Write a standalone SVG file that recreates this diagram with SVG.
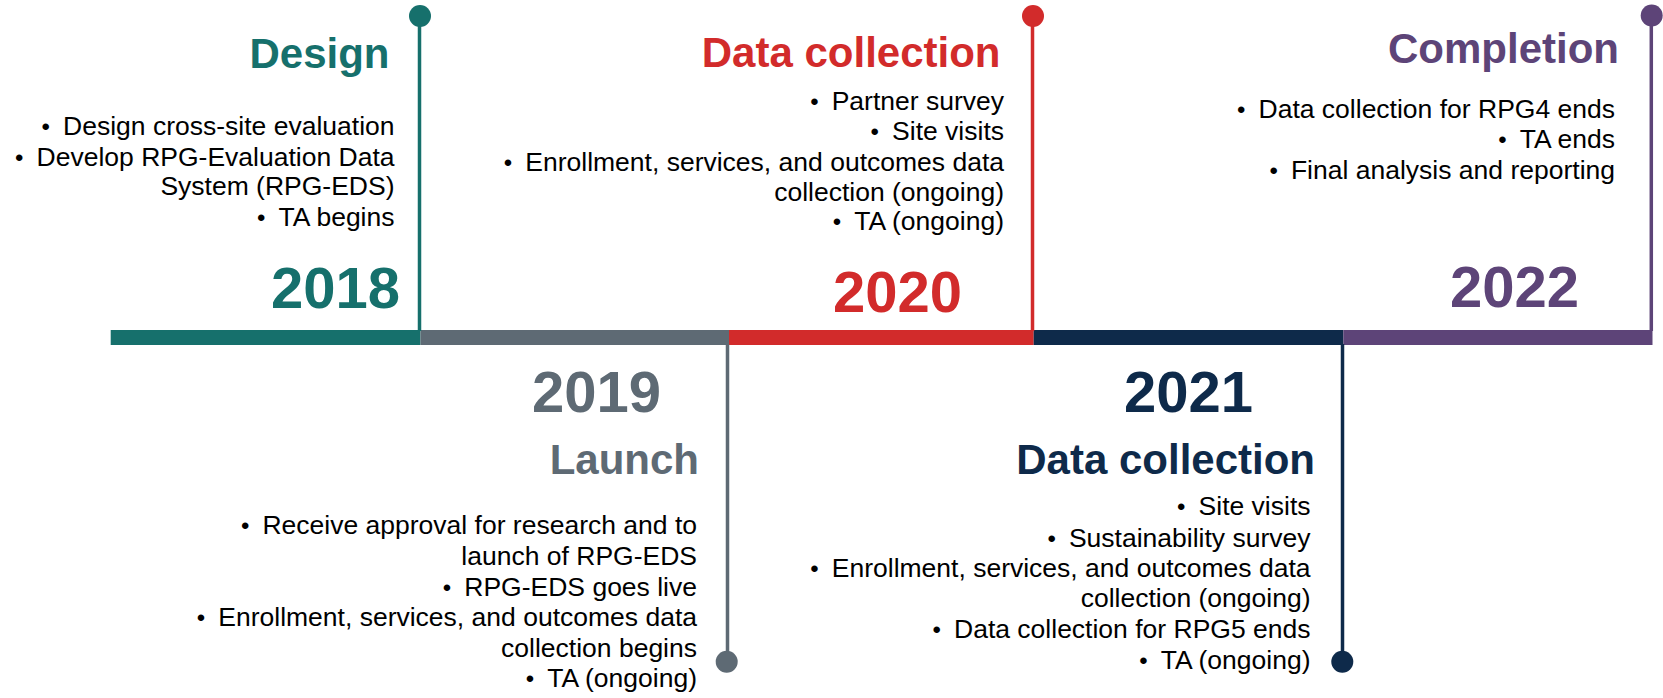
<svg xmlns="http://www.w3.org/2000/svg" width="1663" height="698" viewBox="0 0 1663 698">
  <style>
    text { font-family: "Liberation Sans", Arial, "Helvetica Neue", sans-serif; text-anchor: end; }
    .title { font-size: 42px; font-weight: bold; }
    .year { font-size: 58px; font-weight: bold; }
    .body { font-size: 26.5px; fill: #000; }
    .b { font-size: 24px; }
    .stem { stroke-width: 3.5; fill: none; }
    .teal { fill: #16706C; } .teal-s { stroke: #16706C; }
    .slate { fill: #5E6A74; } .slate-s { stroke: #5E6A74; }
    .red { fill: #D22B2B; } .red-s { stroke: #D22B2B; }
    .navy { fill: #0E2A4A; } .navy-s { stroke: #0E2A4A; }
    .plum { fill: #5D4478; } .plum-s { stroke: #5D4478; }
  </style>
  <rect width="1663" height="698" fill="#fff"/>

  <!-- timeline bar and stems -->
  <g id="connectors">
    <rect class="teal" x="110.7" y="330" width="309.8" height="15"/>
    <rect class="slate" x="420.5" y="330" width="308.5" height="15"/>
    <rect class="red" x="729" y="330" width="304.7" height="15"/>
    <rect class="navy" x="1033.7" y="330" width="309.6" height="15"/>
    <rect class="plum" x="1343.3" y="330" width="309.2" height="15"/>
    <line class="stem teal-s" x1="419.5" y1="16" x2="419.5" y2="331"/>
    <line class="stem slate-s" x1="727.5" y1="344" x2="727.5" y2="662"/>
    <line class="stem red-s" x1="1032.5" y1="16" x2="1032.5" y2="331"/>
    <line class="stem navy-s" x1="1342.5" y1="344" x2="1342.5" y2="662"/>
    <line class="stem plum-s" x1="1651.3" y1="16" x2="1651.3" y2="331"/>
  </g>

  <g id="y2018">
    <circle class="teal" cx="420" cy="16" r="11"/>
    <text class="title teal" x="389.5" y="68.3">Design</text>
    <text class="body" x="394.5" y="135"><tspan class="b">•</tspan><tspan dx="13.1">Design cross-site evaluation</tspan></text>
    <text class="body" x="394.5" y="165.7"><tspan class="b">•</tspan><tspan dx="13.1">Develop RPG-Evaluation Data</tspan></text>
    <text class="body" x="394.5" y="195.3">System (RPG-EDS)</text>
    <text class="body" x="394.5" y="226.3"><tspan class="b">•</tspan><tspan dx="13.1">TA begins</tspan></text>
    <text class="year teal" x="400" y="308.3">2018</text>
  </g>

  <g id="y2019">
    <circle class="slate" cx="726.7" cy="661.7" r="11"/>
    <text class="year slate" x="661" y="411.7">2019</text>
    <text class="title slate" x="699" y="474">Launch</text>
    <text class="body" x="697" y="534"><tspan class="b">•</tspan><tspan dx="13.1">Receive approval for research and to</tspan></text>
    <text class="body" x="697" y="565">launch of RPG-EDS</text>
    <text class="body" x="697" y="595.5"><tspan class="b">•</tspan><tspan dx="13.1">RPG-EDS goes live</tspan></text>
    <text class="body" x="697" y="626"><tspan class="b">•</tspan><tspan dx="13.1">Enrollment, services, and outcomes data</tspan></text>
    <text class="body" x="697" y="656.7">collection begins</text>
    <text class="body" x="697" y="686.7"><tspan class="b">•</tspan><tspan dx="13.1">TA (ongoing)</tspan></text>
  </g>

  <g id="y2020">
    <circle class="red" cx="1033" cy="16" r="11"/>
    <text class="title red" x="1000.5" y="66.7">Data collection</text>
    <text class="body" x="1004" y="110"><tspan class="b">•</tspan><tspan dx="13.1">Partner survey</tspan></text>
    <text class="body" x="1004" y="139.5"><tspan class="b">•</tspan><tspan dx="13.1">Site visits</tspan></text>
    <text class="body" x="1004" y="170.5"><tspan class="b">•</tspan><tspan dx="13.1">Enrollment, services, and outcomes data</tspan></text>
    <text class="body" x="1004" y="200.5">collection (ongoing)</text>
    <text class="body" x="1004" y="230"><tspan class="b">•</tspan><tspan dx="13.1">TA (ongoing)</tspan></text>
    <text class="year red" x="962" y="311.7">2020</text>
  </g>

  <g id="y2021">
    <circle class="navy" cx="1342.3" cy="661.7" r="11"/>
    <text class="year navy" x="1253" y="411.7">2021</text>
    <text class="title navy" x="1315" y="474">Data collection</text>
    <text class="body" x="1310.5" y="515"><tspan class="b">•</tspan><tspan dx="13.1">Site visits</tspan></text>
    <text class="body" x="1310.5" y="546.7"><tspan class="b">•</tspan><tspan dx="13.1">Sustainability survey</tspan></text>
    <text class="body" x="1310.5" y="576.7"><tspan class="b">•</tspan><tspan dx="13.1">Enrollment, services, and outcomes data</tspan></text>
    <text class="body" x="1310.5" y="607.3">collection (ongoing)</text>
    <text class="body" x="1310.5" y="638.3"><tspan class="b">•</tspan><tspan dx="13.1">Data collection for RPG5 ends</tspan></text>
    <text class="body" x="1310.5" y="668.5"><tspan class="b">•</tspan><tspan dx="13.1">TA (ongoing)</tspan></text>
  </g>

  <g id="y2022">
    <circle class="plum" cx="1651.7" cy="15.5" r="11"/>
    <text class="title plum" x="1619" y="63.3">Completion</text>
    <text class="body" x="1615" y="118.3"><tspan class="b">•</tspan><tspan dx="13.1">Data collection for RPG4 ends</tspan></text>
    <text class="body" x="1615" y="148.3"><tspan class="b">•</tspan><tspan dx="13.1">TA ends</tspan></text>
    <text class="body" x="1615" y="179"><tspan class="b">•</tspan><tspan dx="13.1">Final analysis and reporting</tspan></text>
    <text class="year plum" x="1579" y="307.3">2022</text>
  </g>
</svg>
